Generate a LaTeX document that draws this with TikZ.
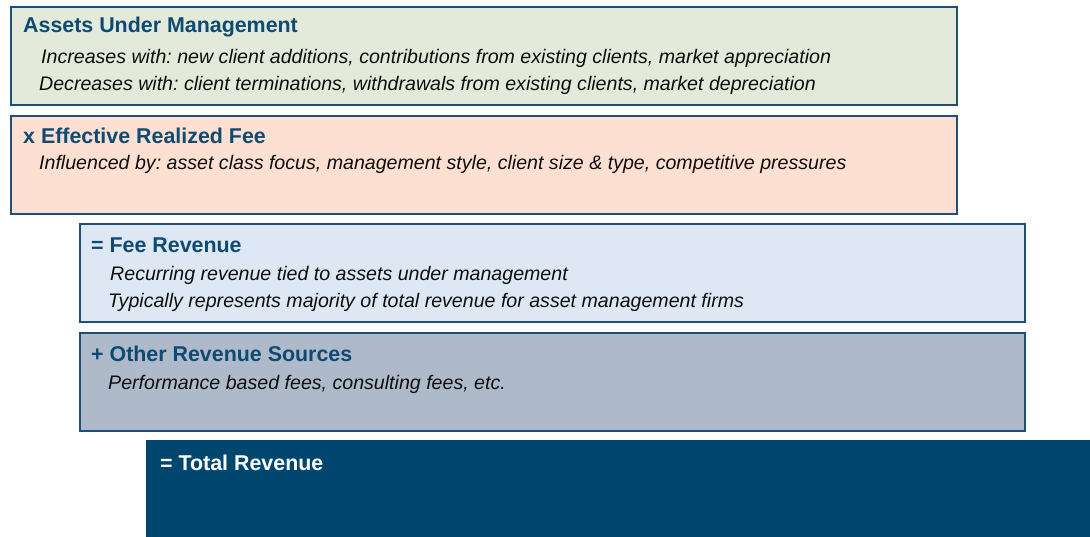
\documentclass[tikz,border=0pt]{standalone}
\usepackage{fontspec}
\setmainfont{Liberation Sans}
\setsansfont{Liberation Sans}
\frenchspacing
\definecolor{bordc}{HTML}{1F4E79}
\definecolor{titlec}{HTML}{0E4A72}
\definecolor{greenf}{HTML}{E4EAD9}
\definecolor{peachf}{HTML}{FDE0D2}
\definecolor{bluef}{HTML}{DDE8F4}
\definecolor{grayf}{HTML}{AEBACA}
\definecolor{darkf}{HTML}{00466E}
\tikzset{
  box/.style={draw=bordc, line width=2pt, rectangle, inner sep=0pt, anchor=north west},
  ttl/.style={anchor=west, inner sep=0pt, font=\fontsize{21.4}{24}\selectfont\bfseries, text=titlec},
  txt/.style={anchor=west, inner sep=0pt, font=\fontsize{19.6}{22}\selectfont\itshape\frenchspacing, text=black!95},
}
\begin{document}
\begin{tikzpicture}[x=1pt,y=-1pt]
\useasboundingbox (0,0) rectangle (1090,537);
\node[box, fill=greenf, minimum width=946pt, minimum height=98pt] (b1) at (10,6) {};
\node[box, fill=peachf, minimum width=946pt, minimum height=98pt] (b2) at (10,115) {};
\node[box, fill=bluef, minimum width=945pt, minimum height=98pt] (b3) at (79,223) {};
\node[box, fill=grayf, minimum width=945pt, minimum height=98pt] (b4) at (79,332) {};
\node[anchor=north west, fill=darkf, inner sep=0pt, minimum width=944pt, minimum height=97pt] (b5) at (146,440) {};

\node[ttl] (t1) at (23,27) {Assets Under Management};
\node[txt] (l11) at (41,58) {Increases with: new client additions, contributions from existing clients, market appreciation};
\node[txt] (l12) at (39,85) {Decreases with: client terminations, withdrawals from existing clients, market depreciation};

\node[ttl] (t2) at (23,136) {x Effective Realized Fee};
\node[txt] (l21) at (39,164) {Influenced by: asset class focus, management style, client size \& type, competitive pressures};

\node[ttl] (t3) at (91,245) {= Fee Revenue};
\node[txt] (l31) at (110,275) {Recurring revenue tied to assets under management};
\node[txt] (l32) at (108,302) {Typically represents majority of total revenue for asset management firms};

\node[ttl] (t4) at (91,354) {+ Other Revenue Sources};
\node[txt] (l41) at (108,384) {Performance based fees, consulting fees, etc.};

\node[ttl, text=white] (t5) at (160,463) {= Total Revenue};
\end{tikzpicture}
\end{document}
